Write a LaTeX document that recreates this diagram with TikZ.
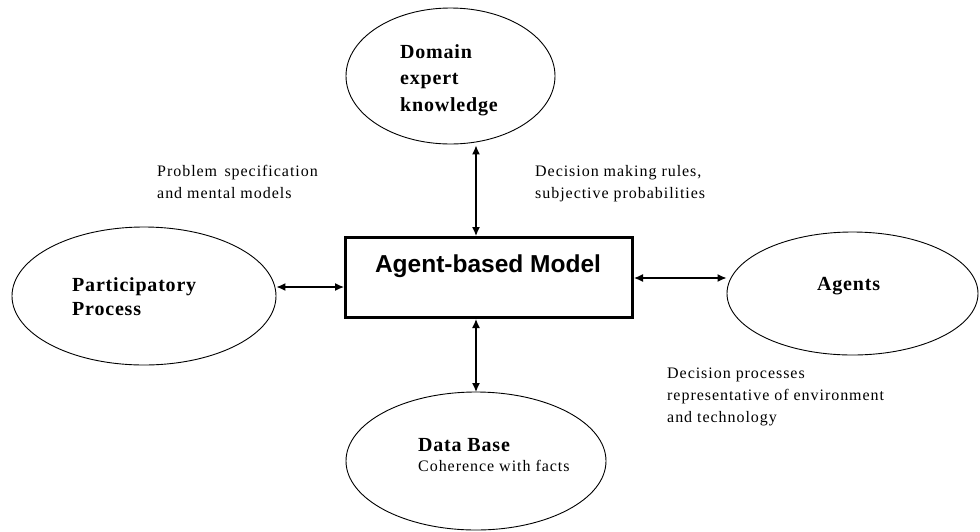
\documentclass[tikz,border=0pt]{standalone}
\usepackage{fontspec}
\setmainfont{Liberation Serif}
\newfontfamily\boxfont{Liberation Sans}
\usetikzlibrary{shapes.geometric,arrows.meta}
\tikzset{
  blob/.style={ellipse,draw,line width=0.9pt,inner sep=0pt},
  bigtitle/.style={font=\bfseries\fontsize{20}{26.5}\selectfont\addfontfeature{LetterSpace=4},align=left,anchor=base west,inner sep=0pt},
  note/.style={font=\fontsize{16}{21.7}\selectfont\addfontfeature{LetterSpace=6},align=left,anchor=base west,inner sep=0pt},
  link/.style={line width=1.3pt,{Latex[length=9pt,width=8pt]}-{Latex[length=9pt,width=8pt]}},
}
\begin{document}
\begin{tikzpicture}[x=1pt,y=-1pt]
\useasboundingbox (0,0) rectangle (980,531);
% central model box
\node[draw,line width=3pt,minimum width=287pt,minimum height=80pt,inner sep=0pt] (abm) at (489,277.5) {};
\node[font=\boxfont\bfseries\fontsize{24.5}{28}\selectfont,anchor=base] (abmtxt) at (488,272) {Agent-based Model};
% surrounding ellipses
\node[blob,minimum width=209pt,minimum height=136pt] (dom) at (450.5,76) {};
\node[blob,minimum width=264pt,minimum height=138pt] (part) at (144,296) {};
\node[blob,minimum width=251pt,minimum height=123pt] (agents) at (852.5,293.5) {};
\node[blob,minimum width=260pt,minimum height=138pt] (data) at (476,461) {};
% ellipse labels (multi-line nodes are placed by the baseline of their last line)
\node[bigtitle] (domtxt) at (400,111) {Domain\\expert\\knowledge};
\node[bigtitle,font=\bfseries\fontsize{20}{24}\selectfont\addfontfeature{LetterSpace=4}] (parttxt) at (72,315) {Participatory\\Process};
\node[bigtitle] (agtxt) at (817,290) {Agents};
\node[bigtitle] (datatxt) at (418,451) {Data Base};
\node[note] (cohtxt) at (418,471) {Coherence with facts};
% edge notes
\node[note] (n1) at (157,198) {Problem\hspace{0.15em} specification\\and mental models};
\node[note] (n2) at (535,198) {Decision making rules,\\subjective probabilities};
\node[note] (n3) at (667,422) {Decision processes\\representative of environment\\and technology};
% connectors
\coordinate (t1) at (476,145);
\coordinate (t2) at (476,319);
\coordinate (b2) at (476,392);
\draw[link] (dom.south -| t1) ++(0,1) -- (abm.north -| t1);
\draw[link] (abm.south -| t2) -- (b2);
\draw[link] (part.east |- 0,287) -- (abm.west |- 0,287);
\draw[link] (abm.east |- 0,278) -- (agents.west |- 0,278);
\end{tikzpicture}
\end{document}
